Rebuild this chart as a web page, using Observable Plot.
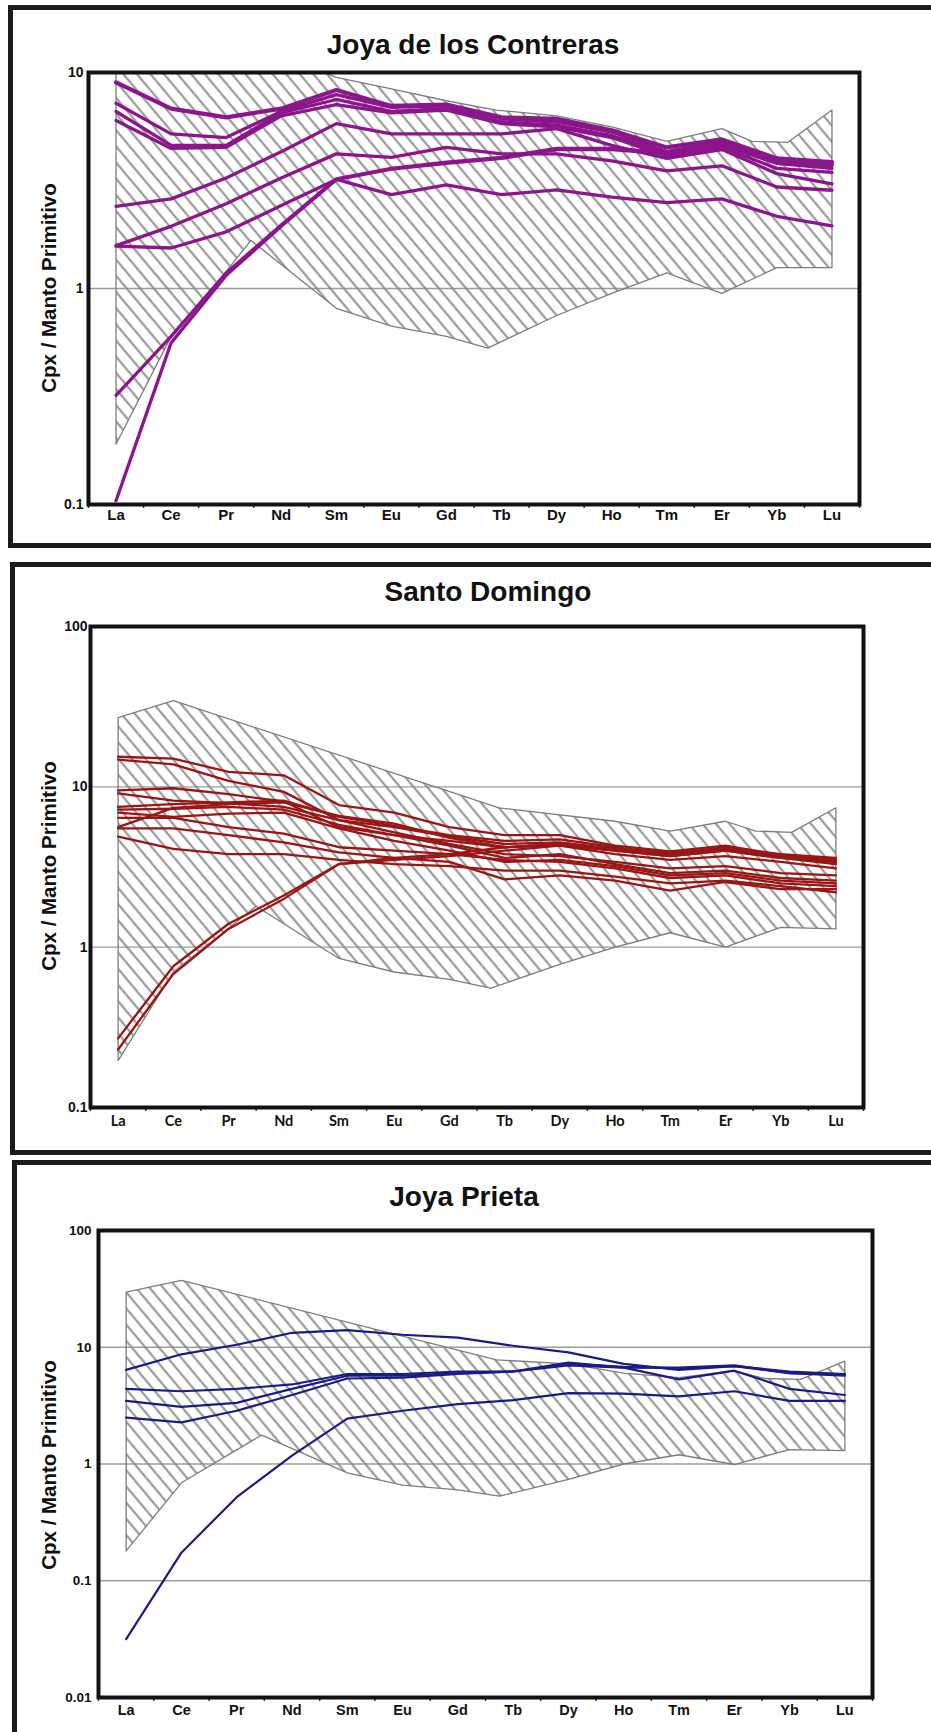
<!DOCTYPE html>
<html><head><meta charset="utf-8">
<script src="https://cdn.jsdelivr.net/npm/d3@7"></script>
<script src="https://cdn.jsdelivr.net/npm/@observablehq/plot@0.6"></script>
<style>
html,body{margin:0;padding:0;background:#fff;}
#page{position:relative;width:931px;height:1732px;overflow:hidden;background:#fff;}
.box{position:absolute;border:5px solid #1b1b1b;box-sizing:border-box;pointer-events:none;z-index:3;}
.chart{position:absolute;left:0;z-index:1;}
.title{position:absolute;font:bold 28px 'Liberation Sans',Arial,sans-serif;line-height:1;white-space:nowrap;transform:translateX(-50%);color:#111;z-index:2}
.ylab{position:absolute;font:bold 20.5px 'Liberation Sans',Arial,sans-serif;line-height:1;white-space:nowrap;transform:translate(-50%,-50%) rotate(-90deg);color:#111;z-index:2}
</style></head>
<body><div id="page"></div>
<script>
// ---------------- data ----------------
const ree = ["La","Ce","Pr","Nd","Sm","Eu","Gd","Tb","Dy","Ho","Tm","Er","Yb","Lu"];

// Joya de los Contreras
const contrerasTitle = "Joya de los Contreras";
const contrerasSeries = [
  [9.0, 6.8, 6.2, 6.8, 8.3, 7.0, 7.1, 6.2, 6.1, 5.4, 4.5, 4.9, 4.0, 3.85],
  [7.2, 5.2, 5.0, 6.6, 7.9, 6.9, 7.0, 6.1, 5.9, 5.3, 4.3, 4.8, 3.9, 3.75],
  [6.6, 4.6, 4.6, 6.5, 7.5, 6.6, 6.8, 5.9, 5.7, 5.1, 4.2, 4.7, 3.8, 3.6],
  [6.0, 4.45, 4.5, 6.3, 7.1, 6.5, 6.7, 5.8, 5.6, 5.0, 4.1, 4.5, 3.6, 3.45],
  [2.4, 2.6, 3.25, 4.3, 5.8, 5.2, 5.2, 5.2, 5.5, 4.6, 4.0, 4.4, 3.4, 3.05],
  [1.58, 1.94, 2.47, 3.25, 4.2, 4.05, 4.5, 4.2, 4.2, 3.9, 3.5, 3.7, 2.95, 2.85],
  [1.57, 1.54, 1.83, 2.42, 3.2, 2.72, 3.02, 2.72, 2.86, 2.65, 2.5, 2.6, 2.16, 1.95],
  [0.104, 0.56, 1.15, 1.94, 3.19, 3.57, 3.8, 4.0, 4.4, 4.4, 4.2, 4.6, 3.8, 3.7],
  [0.32, 0.6, 1.18, 1.97, 3.22, 3.6, 3.85, 4.05, 4.45, 4.45, 4.25, 4.65, 3.85, 3.75]
];
const contrerasUpper = [[0,28],[1,36],[3,12],[4,9.5],[5,8.4],[6,7.4],[6.9,6.7],[8,6.3],[9,5.6],[10,4.8],[11,5.5],[11.55,4.8],[12.2,4.75],[13,6.7]];
const contrerasLower = [[0,0.19],[1,0.6],[2,1.2],[2.45,1.67],[4,0.81],[5,0.67],[6,0.6],[6.75,0.53],[8,0.75],[9,0.95],[10,1.18],[11,0.95],[12,1.25],[13,1.25]];
const contrerasTicks = [0.1, 1, 10];
const contrerasGrid = [1];

// Santo Domingo
const domingoTitle = "Santo Domingo";
const domingoSeries = [
  [15.4, 15.0, 12.4, 11.8, 7.7, 6.9, 5.6, 5.0, 5.0, 4.3, 3.96, 4.3, 3.76, 3.5],
  [14.8, 13.8, 10.9, 9.3, 6.2, 5.6, 4.9, 4.4, 4.5, 4.1, 3.9, 4.1, 3.7, 3.4],
  [9.5, 9.8, 9.0, 8.1, 5.6, 5.0, 4.6, 4.2, 4.4, 4.0, 3.7, 4.0, 3.6, 3.3],
  [9.1, 8.2, 7.9, 7.5, 6.2, 5.2, 4.4, 3.8, 3.7, 3.4, 3.1, 3.2, 2.9, 2.8],
  [7.5, 7.8, 8.0, 8.2, 6.5, 5.7, 5.0, 4.6, 4.7, 4.2, 3.8, 4.2, 3.8, 3.6],
  [7.2, 7.3, 7.5, 7.2, 5.8, 5.0, 4.3, 3.6, 3.8, 3.3, 2.9, 3.0, 2.7, 2.6],
  [6.9, 6.5, 6.8, 6.9, 5.5, 4.6, 4.0, 3.4, 3.5, 3.2, 2.8, 2.9, 2.6, 2.5],
  [6.4, 6.4, 5.6, 5.1, 4.2, 4.0, 3.8, 3.5, 3.4, 3.1, 2.7, 2.8, 2.5, 2.4],
  [5.6, 7.4, 7.8, 8.0, 6.6, 5.9, 4.8, 4.2, 4.3, 3.8, 3.5, 3.7, 3.4, 3.1],
  [5.5, 5.5, 5.0, 4.5, 3.9, 3.6, 3.4, 2.65, 2.8, 2.6, 2.25, 2.55, 2.3, 2.3],
  [4.9, 4.1, 3.8, 3.8, 3.5, 3.3, 3.2, 3.0, 3.0, 2.75, 2.5, 2.6, 2.4, 2.2],
  [0.27, 0.76, 1.4, 2.1, 3.3, 3.5, 3.7, 4.0, 4.3, 4.0, 3.7, 4.0, 3.6, 3.4],
  [0.23, 0.68, 1.3, 2.0, 3.3, 3.6, 3.8, 4.2, 4.4, 4.1, 3.8, 4.1, 3.7, 3.5]
];
const domingoUpper = [[0,27],[1,34.5],[6.9,7.4],[9,6.1],[10,5.3],[11,6.1],[11.55,5.3],[12.2,5.2],[13,7.4]];
const domingoLower = [[0,0.196],[1,0.7],[2.5,1.8],[4,0.85],[5,0.7],[6,0.63],[6.75,0.555],[8,0.78],[9,1.0],[10,1.23],[11,1.0],[12,1.33],[13,1.3]];
const domingoTicks = [0.1, 1, 10, 100];
const domingoGrid = [1, 10];

// Joya Prieta
const prietaTitle = "Joya Prieta";
const prietaSeries = [
  [6.4, 8.7, 10.5, 13.3, 14.0, 12.8, 12.1, 10.3, 9.05, 7.2, 6.4, 6.9, 6.0, 5.7],
  [4.4, 4.2, 4.4, 4.8, 5.9, 5.9, 6.2, 6.2, 7.2, 6.8, 6.6, 6.9, 6.2, 5.9],
  [3.47, 3.09, 3.34, 4.4, 5.7, 5.7, 6.0, 6.2, 7.0, 6.7, 5.3, 6.3, 4.4, 3.9],
  [2.5, 2.27, 2.86, 3.9, 5.4, 5.5, 5.9, 6.2, 7.4, 6.7, 6.7, 7.0, 6.0, 5.85],
  [0.0316, 0.174, 0.52, 1.18, 2.45, 2.86, 3.26, 3.52, 4.04, 4.0, 3.8, 4.2, 3.47, 3.47]
];
const prietaUpper = [[0,29.7],[1,37.4],[6.7,7.8],[8,7.2],[9,6.0],[10,5.5],[11,6.3],[11.55,5.4],[12.2,5.3],[13,7.6]];
const prietaLower = [[0,0.18],[1,0.69],[2.45,1.77],[4,0.84],[5,0.66],[6,0.6],[6.75,0.53],[8,0.74],[9,1.0],[10,1.2],[11,0.99],[12,1.33],[13,1.3]];
const prietaTicks = [0.01, 0.1, 1, 10, 100];
const prietaGrid = [0.1, 1, 10];

// ---------------- drawing ----------------
const page = document.getElementById("page");
page.insertAdjacentHTML("beforeend",
  `<svg width="0" height="0" style="position:absolute;left:0;top:0"><defs>
    <pattern id="hatch" patternUnits="userSpaceOnUse" width="10.4" height="10.4" patternTransform="rotate(-40)">
      <line x1="5.2" y1="-2" x2="5.2" y2="13" stroke="#8a8a8a" stroke-width="1.9"/>
    </pattern></defs></svg>`);

function panel(cfg) {
  const rows = cfg.series.flatMap((vals, s) => vals.map((v, i) => ({s, i, v})));
  const poly = [...cfg.upper, ...[...cfg.lower].reverse(), cfg.upper[0]].map(([i, v]) => ({i, v}));
  const thick = rows.filter(d => cfg.thick.includes(d.s));
  const thin = rows.filter(d => !cfg.thick.includes(d.s));
  const plot = Plot.plot({
    width: 931, height: cfg.height,
    marginTop: cfg.m[0], marginRight: cfg.m[1], marginBottom: cfg.m[2], marginLeft: cfg.m[3],
    style: {background: "transparent", overflow: "visible", fontFamily: "'Liberation Sans', Arial, sans-serif", color: "#111"},
    x: {type: "linear", domain: [-0.5, ree.length - 0.5], label: null},
    y: {type: "log", domain: cfg.domain, label: null},
    marks: [
      Plot.ruleY(cfg.grid, {stroke: "#9c9c9c", strokeWidth: 1.3}),
      Plot.line(poly, {x: "i", y: "v", fill: "url(#hatch)", stroke: "#7d7d7d", strokeWidth: 1.3, clip: true}),
      Plot.line(thin, {x: "i", y: "v", z: "s", stroke: cfg.color, strokeWidth: cfg.thinW, strokeLinejoin: "round", clip: true}),
      Plot.line(thick, {x: "i", y: "v", z: "s", stroke: cfg.color, strokeWidth: cfg.thickW, strokeLinejoin: "round", clip: true}),
      Plot.axisY({ticks: cfg.ticks, tickFormat: d3.format("~g"), tickSize: 0, tickPadding: cfg.yPad, label: null,
        fontWeight: "bold", fontSize: cfg.yFont, fontFamily: cfg.yFamily}),
      Plot.axisX({ticks: d3.range(ree.length), tickFormat: i => ree[i], tickSize: 0, tickPadding: cfg.xPad, label: null,
        fontWeight: "bold", fontSize: cfg.xFont, fontFamily: cfg.xFamily}),
      Plot.axisX({ticks: d3.range(ree.length + 1).map(i => i - 0.5), tickFormat: () => "", tickSize: 4, tickPadding: 0, label: null, stroke: "#333", strokeWidth: 1.5}),
      Plot.frame({stroke: "#111", strokeWidth: 4})
    ]
  });
  plot.classList.add("chart");
  plot.style.top = cfg.top + "px";
  page.appendChild(plot);

  const t = document.createElement("div");
  t.className = "title"; t.textContent = cfg.title;
  t.style.left = cfg.titleX + "px"; t.style.top = cfg.titleY + "px";
  page.appendChild(t);

  const yl = document.createElement("div");
  yl.className = "ylab"; yl.textContent = "Cpx / Manto Primitivo";
  yl.style.left = "49px"; yl.style.top = cfg.ylabY + "px";
  page.appendChild(yl);

  const b = document.createElement("div");
  b.className = "box";
  b.style.left = cfg.box[0] + "px"; b.style.top = cfg.box[1] + "px";
  b.style.width = "960px"; b.style.height = cfg.box[2] + "px";
  page.appendChild(b);
}

const arial = "'Liberation Sans', Arial, sans-serif";

panel({title: contrerasTitle, series: contrerasSeries, upper: contrerasUpper, lower: contrerasLower,
  ticks: contrerasTicks, grid: contrerasGrid, domain: [0.1, 10], color: "#8b168b", thinW: 3.3, thickW: 4.2, thick: [0],
  top: 0, height: 545, m: [72, 72, 41, 88], yPad: 5, xPad: 5,
  xFont: 15, xFamily: arial, yFont: 14, yFamily: arial,
  titleX: 473, titleY: 31, ylabY: 288, box: [8, 5, 543]});

panel({title: domingoTitle, series: domingoSeries, upper: domingoUpper, lower: domingoLower,
  ticks: domingoTicks, grid: domingoGrid, domain: [0.1, 100], color: "#9a1616", thinW: 2.3, thickW: 2.3, thick: [],
  top: 545, height: 600, m: [81, 68, 38, 90], yPad: 3, xPad: 8,
  xFont: 14.5, xFamily: "Lato, 'Open Sans', sans-serif", yFont: 14, yFamily: arial,
  titleX: 488, titleY: 578, ylabY: 866, box: [10, 562, 593]});

panel({title: prietaTitle, series: prietaSeries, upper: prietaUpper, lower: prietaLower,
  ticks: prietaTicks, grid: prietaGrid, domain: [0.01, 100], color: "#1b1b87", thinW: 2.2, thickW: 2.2, thick: [],
  top: 1150, height: 582, m: [80, 59, 35, 98], yPad: 7, xPad: 7,
  xFont: 14.5, xFamily: arial, yFont: 13.5, yFamily: arial,
  titleX: 464, titleY: 1183, ylabY: 1465, box: [12, 1160, 620]});
</script></body></html>
